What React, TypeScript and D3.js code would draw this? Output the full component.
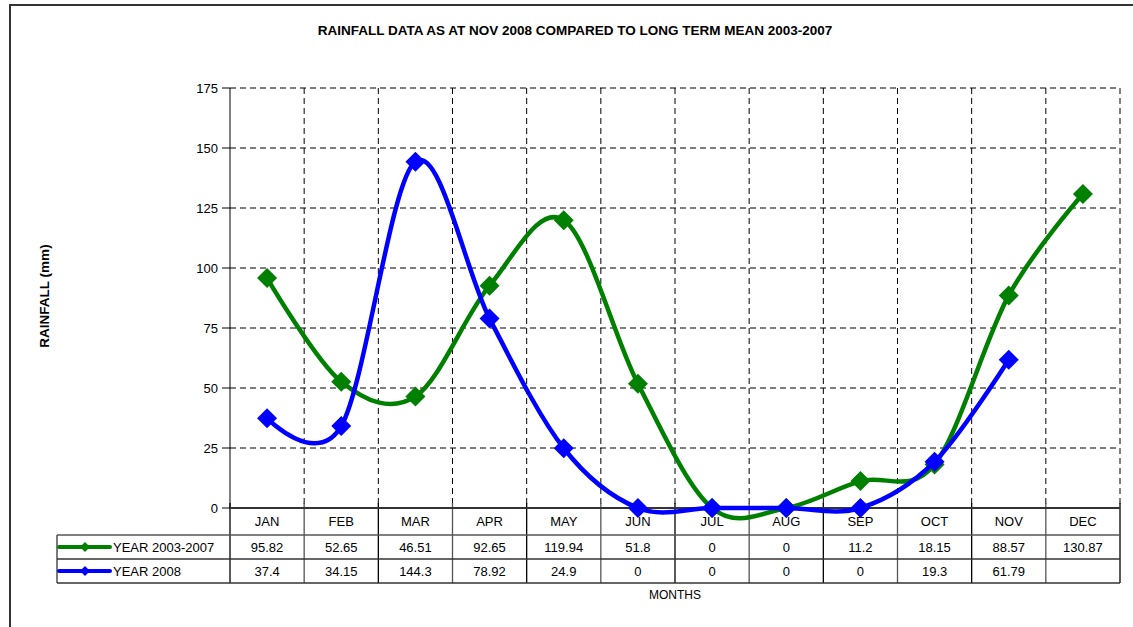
import React from "react";
import * as d3 from "d3";

const months = ["JAN", "FEB", "MAR", "APR", "MAY", "JUN", "JUL", "AUG", "SEP", "OCT", "NOV", "DEC"];
const meanValues: (number | null)[] = [95.82, 52.65, 46.51, 92.65, 119.94, 51.8, 0, 0, 11.2, 18.15, 88.57, 130.87];
const year2008Values: (number | null)[] = [37.4, 34.15, 144.3, 78.92, 24.9, 0, 0, 0, 0, 19.3, 61.79, null];
const yTicks = [0, 25, 50, 75, 100, 125, 150, 175];

const series = [
  { name: "YEAR 2003-2007", color: "#008000", values: meanValues },
  { name: "YEAR 2008", color: "#0000FF", values: year2008Values },
];

const W = 1133;
const H = 627;
const left = 230;
const right = 1120;
const top = 88;
const bottom = 508;
const rowH = 24;
const headerH = 27;
const legendLeft = 57;
const font = "Arial, 'Liberation Sans', sans-serif";

const App = () => {
  const x = d3.scaleBand<string>().domain(months).range([left, right]);
  const y = d3.scaleLinear().domain([0, 175]).range([bottom, top]);
  const cx = (m: string) => (x(m) as number) + x.bandwidth() / 2;
  const line = d3
    .line<{ m: string; v: number }>()
    .x(d => cx(d.m))
    .y(d => y(d.v))
    .curve(d3.curveCardinal.tension(0));
  const diamond = (r: number) => `M0,${-r}L${r},0L0,${r}L${-r},0Z`;

  const bounds = months.map(m => x(m) as number).concat([right]);
  const row1 = bottom + headerH;
  const row2 = row1 + rowH;
  const row3 = row2 + rowH;

  return (
    <svg width={W} height={H} style={{ position: "absolute", left: 0, top: 0 }} fontFamily={font}>
      <rect x={0} y={0} width={W} height={H} fill="#fff" />
      <path d={`M10,${H}V5H${W}`} fill="none" stroke="#333" strokeWidth={2} />
      <text x={575} y={35} textAnchor="middle" fontSize={13.5} fontWeight="bold">
        RAINFALL DATA AS AT NOV 2008 COMPARED TO LONG TERM MEAN 2003-2007
      </text>

      {/* grid */}
      {yTicks.filter(t => t > 0).map(t => (
        <line key={t} x1={left} x2={right} y1={y(t)} y2={y(t)} stroke="#000" strokeDasharray="6,4" strokeWidth={1} />
      ))}
      {bounds.slice(1).map((b, i) => (
        <line key={i} x1={b} x2={b} y1={top} y2={bottom} stroke="#000" strokeDasharray="6,4" strokeWidth={1} />
      ))}

      {/* y axis */}
      <line x1={left} x2={left} y1={top} y2={bottom} stroke="#000" />
      {yTicks.map(t => (
        <g key={t}>
          <line x1={left - 8} x2={left} y1={y(t)} y2={y(t)} stroke="#000" />
          <text x={left - 12} y={y(t) + 4.5} textAnchor="end" fontSize={13}>{t}</text>
        </g>
      ))}
      <text transform={`translate(49,296) rotate(-90)`} textAnchor="middle" fontSize={13.5} fontWeight="bold">RAINFALL (mm)</text>

      {/* table */}
      {bounds.map((b, i) => (
        <line key={i} x1={b} x2={b} y1={bottom - 5} y2={row3} stroke={i % 2 ? "#555" : "#000"} strokeWidth={1.3} />
      ))}
      <line x1={legendLeft} x2={legendLeft} y1={row1} y2={row3} stroke="#333" strokeWidth={1.3} />
      <line x1={left} x2={right} y1={bottom} y2={bottom} stroke="#333" strokeWidth={2} />
      <line x1={legendLeft} x2={right} y1={row1} y2={row1} stroke="#555" strokeWidth={1.3} />
      <line x1={legendLeft} x2={right} y1={row2} y2={row2} stroke="#333" strokeWidth={1.3} />
      <line x1={legendLeft} x2={right} y1={row3} y2={row3} stroke="#333" strokeWidth={1.5} />
      {months.map(m => (
        <text key={m} x={cx(m)} y={bottom + 18} textAnchor="middle" fontSize={13}>{m}</text>
      ))}
      {series.map((s, si) => {
        const ry = row1 + si * rowH;
        return (
          <g key={s.name}>
            <line x1={59} x2={110} y1={ry + 12} y2={ry + 12} stroke={s.color} strokeWidth={4} strokeLinecap="round" />
            <path d={diamond(5)} transform={`translate(85,${ry + 12})`} fill={s.color} />
            <text x={113} y={ry + 17} fontSize={13}>{s.name}</text>
            {months.map((m, i) =>
              s.values[i] == null ? null : (
                <text key={m} x={cx(m)} y={ry + 17} textAnchor="middle" fontSize={13}>{s.values[i]}</text>
              )
            )}
          </g>
        );
      })}
      <text x={675} y={599} textAnchor="middle" fontSize={12}>MONTHS</text>

      {/* series */}
      {series.map(s => {
        const pts = months
          .map((m, i) => ({ m, v: s.values[i] }))
          .filter(d => d.v != null) as { m: string; v: number }[];
        return (
          <g key={s.name}>
            <path d={line(pts) || ""} fill="none" stroke={s.color} strokeWidth={4.5} strokeLinejoin="round" />
            {pts.map(d => (
              <path key={d.m} d={diamond(10)} transform={`translate(${cx(d.m)},${y(d.v)})`} fill={s.color} />
            ))}
          </g>
        );
      })}
    </svg>
  );
};

export default App;
